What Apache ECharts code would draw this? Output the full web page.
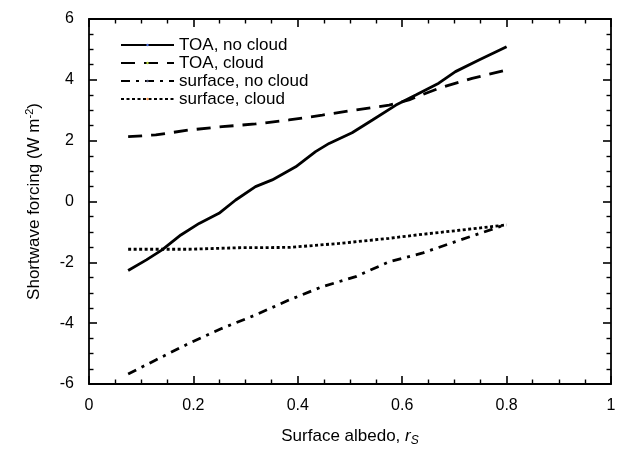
<!DOCTYPE html>
<html>
<head>
<meta charset="utf-8">
<script src="https://cdn.jsdelivr.net/npm/echarts@6/dist/echarts.min.js"></script>
<style>
html,body{margin:0;padding:0;background:#fff;}
#chart{width:630px;height:454px;}
</style>
</head>
<body>
<div id="chart"></div>
<script>
// ---- data ----
var seriesNames = ['TOA, no cloud', 'TOA, cloud', 'surface, no cloud', 'surface, cloud'];

var toaNoCloudX = [0.075, 0.11, 0.14, 0.176, 0.211, 0.249, 0.281, 0.319, 0.351, 0.396, 0.434, 0.46, 0.504, 0.543, 0.588, 0.626, 0.67, 0.702, 0.747, 0.8];
var toaNoCloudY = [-2.27, -1.92, -1.59, -1.10, -0.72, -0.39, 0.05, 0.49, 0.71, 1.14, 1.64, 1.91, 2.26, 2.68, 3.17, 3.50, 3.89, 4.27, 4.65, 5.09];

var toaCloudX = [0.075, 0.128, 0.192, 0.255, 0.319, 0.383, 0.447, 0.511, 0.575, 0.613, 0.67, 0.734, 0.8];
var toaCloudY = [2.13, 2.19, 2.35, 2.46, 2.55, 2.68, 2.84, 3.01, 3.17, 3.34, 3.72, 4.05, 4.32];

var sfcNoCloudX = [0.075, 0.128, 0.192, 0.255, 0.319, 0.383, 0.447, 0.511, 0.575, 0.638, 0.702, 0.8];
var sfcNoCloudY = [-5.67, -5.21, -4.66, -4.17, -3.73, -3.24, -2.80, -2.47, -1.98, -1.70, -1.32, -0.75];

var sfcCloudX = [0.075, 0.192, 0.287, 0.383, 0.479, 0.575, 0.638, 0.702, 0.8];
var sfcCloudY = [-1.57, -1.57, -1.52, -1.51, -1.38, -1.21, -1.08, -0.96, -0.77];

function pairs(xs, ys) { return xs.map(function (x, i) { return [x, ys[i]]; }); }

var FONT = 'Liberation Sans';
var chart = echarts.init(document.getElementById('chart'));

function ax() {
  return {
    zlevel: 1,
    axisLine: {show: true, onZero: false, lineStyle: {color: '#000', width: 1.8}},
    axisTick: {show: true, inside: true, length: 8, lineStyle: {color: '#000', width: 1.6}},
    minorTick: {show: true, splitNumber: 4, length: 4.5, lineStyle: {color: '#000', width: 1.4}},
    splitLine: {show: false}
  };
}

function mkSeries(name, data, type) {
  return {
    name: name, type: 'line', data: data, symbol: 'none', zlevel: 0,
    lineStyle: {color: '#000', width: 2.8, type: type}
  };
}

var option = {
  animation: false,
  backgroundColor: '#fff',
  textStyle: {fontFamily: FONT},
  grid: {left: 89, right: 19, top: 19, bottom: 70},
  legend: {
    data: seriesNames,
    orient: 'vertical',
    zlevel: 0,
    left: 115, top: 31,
    itemWidth: 53, itemHeight: 3, itemGap: 0,
    textStyle: {fontFamily: FONT, fontSize: 17, color: '#000', lineHeight: 18}
  },
  xAxis: [
    Object.assign(ax(), {
      type: 'value', position: 'bottom', min: 0, max: 1, interval: 0.2,
      axisLabel: {fontFamily: FONT, fontSize: 16, color: '#000', margin: 14},
      name: '{a|Surface albedo, }{i|r}{s|S}',
      nameLocation: 'middle', nameGap: 41,
      nameTextStyle: {fontFamily: FONT, fontSize: 17, color: '#000',
        rich: {
          a: {fontFamily: FONT, fontSize: 17, color: '#000'},
          i: {fontFamily: FONT, fontSize: 17, color: '#000', fontStyle: 'italic'},
          s: {fontFamily: FONT, fontSize: 12, color: '#000', fontStyle: 'italic', padding: [10, 0, 0, 0]}
        }}
    }),
    Object.assign(ax(), {
      type: 'value', position: 'top', min: 0, max: 1, interval: 0.2,
      axisLabel: {show: false}
    })
  ],
  yAxis: [
    Object.assign(ax(), {
      type: 'value', position: 'left', min: -6, max: 6, interval: 2,
      axisLabel: {fontFamily: FONT, fontSize: 16, color: '#000', margin: 15},
      name: '{a|Shortwave forcing (W m}{s|-2}{a|)}',
      nameLocation: 'middle', nameGap: 44, nameRotate: 90,
      nameTextStyle: {fontFamily: FONT, fontSize: 17, color: '#000',
        rich: {
          a: {fontFamily: FONT, fontSize: 17, color: '#000'},
          s: {fontFamily: FONT, fontSize: 11, color: '#000', padding: [0, 0, 10, 0]}
        }}
    }),
    Object.assign(ax(), {
      type: 'value', position: 'right', min: -6, max: 6, interval: 2,
      axisLabel: {show: false}
    })
  ],
  series: [
    mkSeries(seriesNames[0], pairs(toaNoCloudX, toaNoCloudY), 'solid'),
    mkSeries(seriesNames[1], pairs(toaCloudX, toaCloudY), [14, 9]),
    mkSeries(seriesNames[2], pairs(sfcNoCloudX, sfcNoCloudY), [9, 6, 3, 6]),
    mkSeries(seriesNames[3], pairs(sfcCloudX, sfcCloudY), [3, 2.5])
  ]
};
chart.setOption(option);
</script>
</body>
</html>
